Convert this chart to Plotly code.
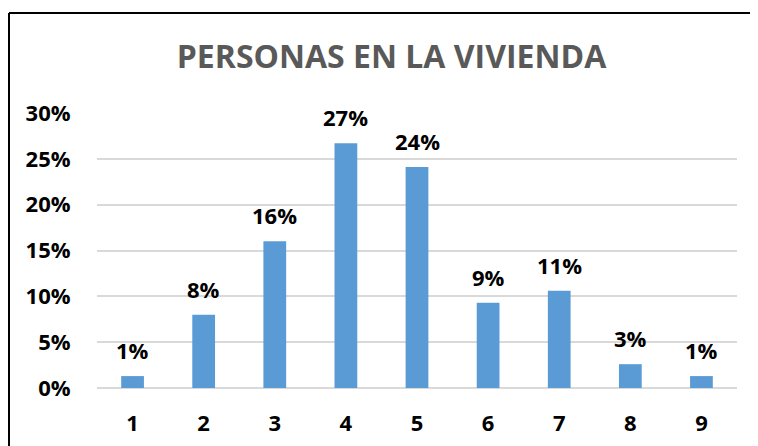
import plotly.graph_objects as go

categories = ["1", "2", "3", "4", "5", "6", "7", "8", "9"]
values = [0.013, 0.080, 0.160, 0.267, 0.241, 0.093, 0.106, 0.026, 0.013]
tick_vals = [0, 0.05, 0.10, 0.15, 0.20, 0.25, 0.30]
tick_text = ["0%", "5%", "10%", "15%", "20%", "25%", "30%"]
title_text = "PERSONAS EN LA VIVIENDA"

# the page body adds an 8px margin, so the figure is drawn 8px smaller
W, H = 750, 438
L, R, T, B = 89, 21, 105, 58
FONT = "Open Sans"

fig = go.Figure()
fig.add_trace(go.Bar(
    x=categories, y=values,
    marker=dict(color="#5b9bd5", line=dict(width=0)),
    hoverinfo="skip",
))

for i, v in enumerate(values):
    fig.add_annotation(
        x=i, y=v, xref="x", yref="y",
        text=f"{round(v * 100):.0f}%",
        showarrow=False, yanchor="middle", yshift=26,
        font=dict(family=FONT, size=22, color="#000000", weight=700),
    )

pw = W - L - R
ph = H - T - B
# frame (top and left border of the chart area)
fx = (1 - L) / pw
fy = (H - B - 5) / ph
fig.add_shape(type="line", xref="paper", yref="paper",
              x0=fx, x1=(W + 10 - L) / pw, y0=fy, y1=fy,
              line=dict(color="#000000", width=2))
fig.add_shape(type="line", xref="paper", yref="paper",
              x0=fx, x1=fx, y0=fy, y1=-(B + 10) / ph,
              line=dict(color="#000000", width=2))

fig.update_layout(
    width=W, height=H,
    margin=dict(l=L, r=R, t=T, b=B, autoexpand=False),
    paper_bgcolor="#ffffff", plot_bgcolor="#ffffff",
    bargap=0.68,
    showlegend=False,
    title=dict(
        text=title_text, x=383.5 / W, xanchor="center", xref="container",
        y=1 - 49 / H, yanchor="middle", yref="container",
        font=dict(family=FONT, size=32, color="#595959", weight=700),
    ),
    xaxis=dict(
        type="category", automargin=False,
        showgrid=False, showline=False, zeroline=False,
        ticks="outside", ticklen=16, tickcolor="rgba(0,0,0,0)",
        tickfont=dict(family=FONT, size=22, color="#000000", weight=700),
    ),
    yaxis=dict(
        range=[0, 0.30], automargin=False,
        tickvals=tick_vals, ticktext=tick_text,
        showgrid=True, gridcolor="#d9d9d9", gridwidth=1.5,
        zeroline=True, zerolinecolor="#d9d9d9", zerolinewidth=1.5,
        showline=False,
        ticks="outside", ticklen=21, tickcolor="rgba(0,0,0,0)",
        tickfont=dict(family=FONT, size=22, color="#000000", weight=700),
    ),
)

fig.write_html("out.html")
